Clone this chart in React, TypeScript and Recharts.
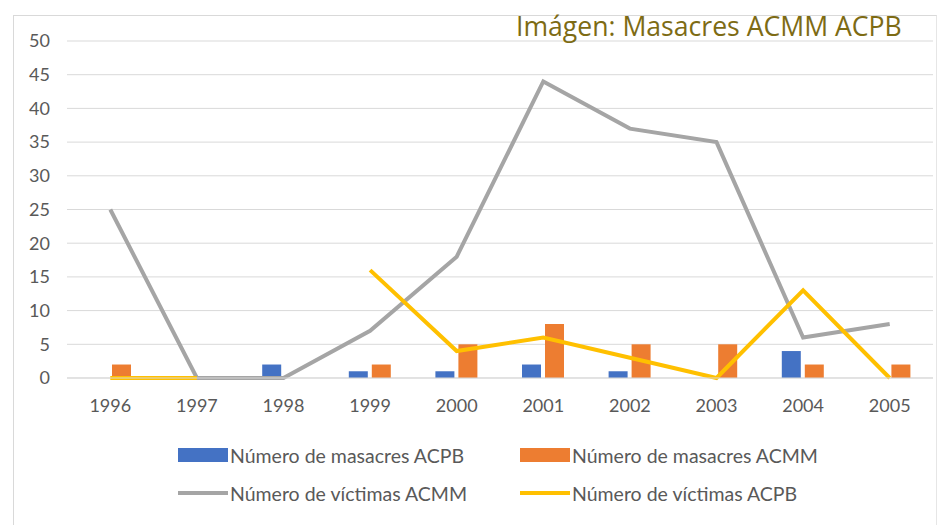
import { ComposedChart, Bar, Line, XAxis, YAxis, CartesianGrid } from "recharts"

const years = ["1996", "1997", "1998", "1999", "2000", "2001", "2002", "2003", "2004", "2005"]
const masacresACPB = [0, 0, 2, 1, 1, 2, 1, 0, 4, 0]
const masacresACMM = [2, 0, 0, 2, 5, 8, 5, 5, 2, 2]
const victimasACMM = [25, 0, 0, 7, 18, 44, 37, 35, 6, 8]
const victimasACPB: (number | null)[] = [0, 0, null, 16, 4, 6, 3, 0, 13, 0]
const yTicks = [0, 5, 10, 15, 20, 25, 30, 35, 40, 45, 50]

const data = years.map((y, i) => ({
  year: y,
  mACPB: masacresACPB[i],
  mACMM: masacresACMM[i],
  vACMM: victimasACMM[i],
  vACPB: victimasACPB[i],
}))

const font = "Lato, 'Open Sans', sans-serif"
const textColor = "#595959"

const legendRows = [
  [
    { name: "Número de masacres ACPB", color: "#4472c4", kind: "bar" },
    { name: "Número de masacres ACMM", color: "#ed7d31", kind: "bar" },
  ],
  [
    { name: "Número de víctimas ACMM", color: "#a5a5a5", kind: "line" },
    { name: "Número de víctimas ACPB", color: "#ffc000", kind: "line" },
  ],
]

function ChartLegend() {
  return (
    <div style={{ fontFamily: font, fontSize: 19.5, color: textColor }}>
      {legendRows.map((row, r) => (
        <div key={r} style={{ display: "flex", height: 38, alignItems: "center" }}>
          {row.map((it, i) => (
            <div key={i} style={{ display: "flex", alignItems: "center", width: 342 }}>
              <div
                style={{
                  width: 50,
                  height: it.kind === "bar" ? 14 : 4,
                  background: it.color,
                  marginRight: 2,
                }}
              />
              <span>{it.name}</span>
            </div>
          ))}
        </div>
      ))}
    </div>
  )
}

export default function App() {
  return (
    <div style={{ position: "absolute", left: 0, top: 0, width: 939, height: 525, background: "#fff", overflow: "hidden" }}>
      <div
        style={{
          position: "absolute",
          left: 13,
          top: 15,
          width: 922,
          height: 600,
          borderLeft: "1px solid #d9d9d9",
          borderTop: "1px solid #d9d9d9",
          borderRight: "1px solid #e6e6e6",
        }}
      />
      <div style={{ position: "absolute", left: 0, top: 0 }}>
        <ComposedChart
          width={939}
          height={525}
          data={data}
          margin={{ top: 41, right: 6, bottom: 117, left: 7 }}
          barGap={4}
          barSize={19}
        >
          <CartesianGrid vertical={false} stroke="#d9d9d9" />
          <XAxis
            dataKey="year"
            height={30}
            interval={0}
            axisLine={{ stroke: "#d9d9d9" }}
            tickLine={false}
            tickMargin={15}
            tick={{ fill: textColor, fontSize: 18, fontFamily: font }}
          />
          <YAxis
            width={60}
            domain={[0, 50]}
            ticks={yTicks}
            interval={0}
            axisLine={false}
            tickLine={false}
            tickMargin={11}
            tick={{ fill: textColor, fontSize: 18, fontFamily: font }}
          />
          <Bar dataKey="mACPB" fill="#4472c4" isAnimationActive={false} />
          <Bar dataKey="mACMM" fill="#ed7d31" isAnimationActive={false} />
          <Line dataKey="vACMM" stroke="#a5a5a5" strokeWidth={4} dot={false} type="linear" isAnimationActive={false} />
          <Line dataKey="vACPB" stroke="#ffc000" strokeWidth={4} dot={false} type="linear" connectNulls={false} isAnimationActive={false} />
        </ComposedChart>
      </div>
      <div style={{ position: "absolute", left: 178, top: 436, width: 700 }}>
        <ChartLegend />
      </div>
      <div
        style={{
          position: "absolute",
          left: 516,
          top: 8,
          fontFamily: "'Open Sans', sans-serif",
          fontSize: 26.6,
          color: "#7d6b14",
          whiteSpace: "nowrap",
        }}
      >
        Imágen: Masacres ACMM ACPB
      </div>
    </div>
  )
}
